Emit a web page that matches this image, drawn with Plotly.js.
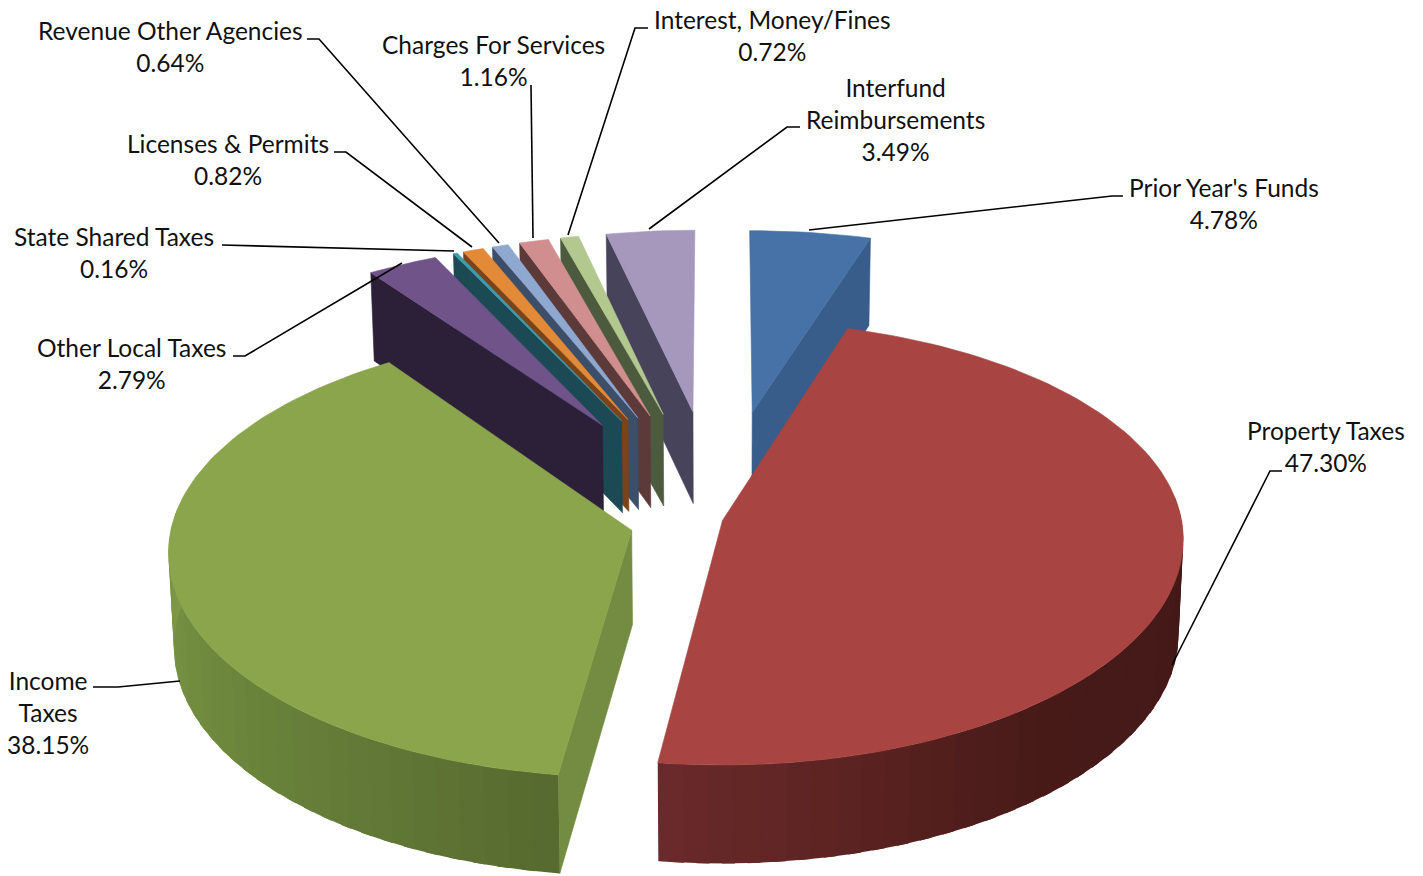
<!DOCTYPE html>
<html>
<head>
<meta charset="utf-8">
<script src="https://cdn.plot.ly/plotly-3.0.1.min.js"></script>
<style>html,body{margin:0;padding:0;background:#fff}#chart{width:1423px;height:876px}</style>
</head>
<body>
<div id="chart"></div>
<script>
// ---- data (clockwise from 12 o'clock) ----
const labels = ["Prior Year's Funds","Property Taxes","Income Taxes","Other Local Taxes","State Shared Taxes","Licenses & Permits","Revenue Other Agencies","Charges For Services","Interest, Money/Fines","Interfund Reimbursements"];
const values = [4.78,47.30,38.15,2.79,0.16,0.82,0.64,1.16,0.72,3.49];

// ---- styling ----
const pulls = [0.52,0.01,0.193,0.52,0.52,0.52,0.52,0.52,0.52,0.52];
const topColors = ['#4672A8','#A84442','#8AA54C','#705389','#3C9DB0','#E38A38','#8FA8D0','#D08F8E','#B3C88E','#A598BC'];
const wallColors = ['#385D8A','#6B2A2B','#738C41','#2C2039','#1B4A55','#7A4319','#3C4E68','#5C3A3A','#4C5B3E','#47435A'];
// rim shading: [angle in degrees, colour] stops
const rimStops = {
  1:[[90,[0x42,0x19,0x17]],[140,[0x47,0x1A,0x18]],[165,[0x5B,0x23,0x21]],[188,[0x6B,0x2A,0x2B]]],
  2:[[187,[0x56,0x69,0x2E]],[205,[0x5F,0x75,0x35]],[235,[0x6C,0x86,0x3C]],[275,[0x7E,0x99,0x46]]]
};
// label text block centres and leader-line routes
const labelPos = [[1224,203],[1326,446],[48,712],[131,363],[114,252],[228,159],[170,46],[493,60],[772,35],[895,119]];
const labelText = ["Prior Year's Funds","Property Taxes","Income<br>Taxes","Other Local Taxes","State Shared Taxes","Licenses &amp; Permits","Revenue Other Agencies","Charges For Services","Interest, Money/Fines","Interfund<br>Reimbursements"];
const leaders = [
 [[1123,196],[1112,196],[809,230]],
 [[1282,471],[1270,471],[1172,665]],
 [[93,687],[118,687],[180,681]],
 [[233,356],[245,356],[402,263]],
 [[222,245],[454,251]],
 [[334,152],[346,152],[472,247]],
 [[307,39],[319,39],[499,243]],
 [[531,85],[533,238]],
 [[648,28],[635,28],[568,235]],
 [[800,127],[787,127],[649,229]]
];

// ---- projection of the exploded pie onto the plot axes ----
const cx=718, cy=520, a=459, b=220, pY=0.1, pX=0.085;
const rad=d=>d*Math.PI/180;
function proj(X,Y){return [cx+a*X/(1+pX*Y), cy-b*Y/(1+pY*Y)];}
function lower(pt,Y){return [cx+(pt[0]-cx)*0.99, pt[1]+94-4.5*Y];}
const total=values.reduce((s,v)=>s+v,0);
let acc=0;
const slices=values.map((v,i)=>{
  const s=acc/total*360; acc+=v; const e=acc/total*360; const m=(s+e)/2;
  return {i,s,e,ox:pulls[i]*Math.sin(rad(m)),oy:pulls[i]*Math.cos(rad(m))};
});
const polygon=(pts,color,name,lw)=>({type:'scatter',mode:'lines',x:pts.map(q=>q[0]).concat(pts[0][0]),y:pts.map(q=>q[1]).concat(pts[0][1]),
  fill:'toself',fillcolor:color,line:{color:color,width:lw},hoverinfo:'skip',showlegend:false,name:name});
function rimPoint(sl,t){const X=sl.ox+Math.sin(rad(t)),Y=sl.oy+Math.cos(rad(t));return {top:proj(X,Y),bot:lower(proj(X,Y),Y)};}
function shade(stops,t){
  if(t<=stops[0][0])return stops[0][1];
  for(let k=1;k<stops.length;k++){ if(t<=stops[k][0]){const f=(t-stops[k-1][0])/(stops[k][0]-stops[k-1][0]);
    return stops[k-1][1].map((c,j)=>c+(stops[k][1][j]-c)*f);} }
  return stops[stops.length-1][1];
}
const traces=[];
slices.slice().sort((A,B)=>B.oy-A.oy).forEach(sl=>{
  const name=labels[sl.i], apexTop=proj(sl.ox,sl.oy), apexBot=lower(apexTop,sl.oy);
  const rs=rimPoint(sl,sl.s), re=rimPoint(sl,sl.e);
  // radial walls, only those facing the viewer
  if(Math.cos(rad(sl.s-90))<-0.02) traces.push(polygon([apexTop,rs.top,rs.bot,apexBot],wallColors[sl.i],name,0.6));
  if(Math.cos(rad(sl.e+90))<-0.02) traces.push(polygon([apexTop,re.top,re.bot,apexBot],wallColors[sl.i],name,0.6));
  // outer rim wall, in shaded strips that overlap the next one so no seam shows
  const from=Math.max(sl.s,84), to=Math.min(sl.e,276);
  if(to>from){
    const n=Math.ceil((to-from)/3);
    for(let k=0;k<n;k++){
      const t0=from+(to-from)*k/n,t1=from+(to-from)*(k+1)/n,t2=Math.min(to,t1+1.5),A=rimPoint(sl,t0),B=rimPoint(sl,t1),C=rimPoint(sl,t2);
      const c=shade(rimStops[sl.i]||[[0,[0,0,0]]],(t0+t1)/2).map(Math.round);
      traces.push(polygon([A.top,B.top,C.top,C.bot,B.bot,A.bot],`rgb(${c.join(',')})`,name,0));
    }
  }
  // top face
  const pts=[apexTop], n=Math.max(4,Math.ceil((sl.e-sl.s)/1.5));
  for(let k=0;k<=n;k++) pts.push(rimPoint(sl,sl.s+(sl.e-sl.s)*k/n).top);
  traces.push(polygon(pts,topColors[sl.i],name,0.6));
});
leaders.forEach((l,i)=>traces.push({type:'scatter',mode:'lines',x:l.map(q=>q[0]),y:l.map(q=>q[1]),
  line:{color:'#000',width:1.6},hoverinfo:'skip',showlegend:false,name:labels[i]+' leader'}));

const annotations=values.map((v,i)=>({x:labelPos[i][0],y:labelPos[i][1],xref:'x',yref:'y',showarrow:false,
  xanchor:'center',yanchor:'middle',align:'center',text:labelText[i]+'<br>'+v.toFixed(2)+'%',
  font:{family:'Lato, Carlito, sans-serif',size:24.5,color:'#111'}}));

Plotly.newPlot('chart',traces,{
  width:1423,height:876,margin:{l:0,r:0,t:0,b:0},paper_bgcolor:'#fff',plot_bgcolor:'#fff',showlegend:false,
  xaxis:{range:[0,1423],visible:false,fixedrange:true},
  yaxis:{range:[876,0],visible:false,fixedrange:true},
  annotations
},{displayModeBar:false,staticPlot:true});
</script>
</body>
</html>
